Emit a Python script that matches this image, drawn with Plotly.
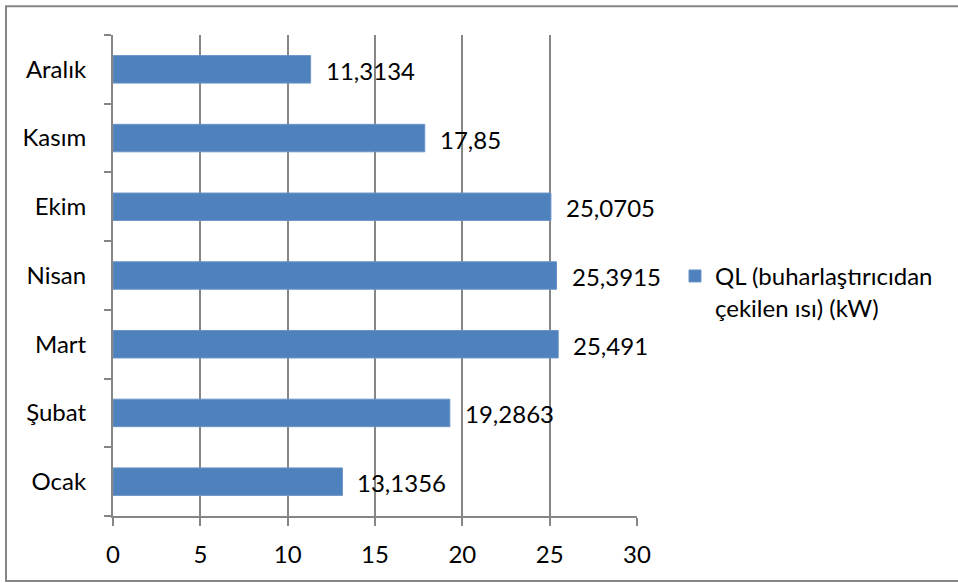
import plotly.graph_objects as go

# Monthly evaporator heat load (kW)
months = ["Ocak", "Şubat", "Mart", "Nisan", "Ekim", "Kasım", "Aralık"]
ql_values = [13.1356, 19.2863, 25.491, 25.3915, 25.0705, 17.85, 11.3134]
x_ticks = [0, 5, 10, 15, 20, 25, 30]
series_name = "QL (buharlaştırıcıdan<br>çekilen ısı) (kW)"

labels = [str(v).replace(".", ",") for v in ql_values]

FONT = "Lato, Carlito, Calibri, sans-serif"
GRAY = "#868686"
SIZE = 24

fig = go.Figure()
fig.add_trace(go.Bar(
    x=ql_values,
    y=months,
    orientation="h",
    name=series_name,
    marker=dict(color="#4f81bd", line=dict(color="#6b95c8", width=1)),
    showlegend=True,
))

# value labels to the right of each bar
for m, v, lab in zip(months, ql_values, labels):
    fig.add_annotation(
        x=v, y=m, text=lab, showarrow=False,
        xanchor="left", yanchor="middle", xshift=13, yshift=-1,
        font=dict(family=FONT, size=SIZE, color="black"),
    )

fig.update_layout(
    width=958,
    height=583,
    margin=dict(l=113, r=321, t=35, b=67),
    paper_bgcolor="white",
    plot_bgcolor="white",
    bargap=0.6,
    font=dict(family=FONT, size=SIZE, color="black"),
    legend=dict(
        x=1.0725, y=0.545, xanchor="left", yanchor="top",
        valign="top",
        font=dict(family=FONT, size=SIZE, color="black"),
        itemwidth=30,
        bgcolor="rgba(0,0,0,0)",
    ),
    xaxis=dict(
        range=[0, 30],
        tickvals=x_ticks,
        ticktext=[str(t) for t in x_ticks],
        showgrid=True,
        gridcolor=GRAY,
        gridwidth=2,
        zeroline=False,
        showline=True,
        linecolor=GRAY,
        linewidth=2,
        ticks="outside",
        ticklen=8,
        tickwidth=2,
        tickcolor=GRAY,
        ticklabelstandoff=8,
        tickfont=dict(family=FONT, size=SIZE, color="black"),
    ),
    yaxis=dict(
        type="category",
        categoryorder="array",
        categoryarray=months,
        showgrid=False,
        zeroline=False,
        showline=True,
        linecolor=GRAY,
        linewidth=2,
        ticks="outside",
        tickson="boundaries",
        ticklen=7,
        tickwidth=2,
        tickcolor=GRAY,
        ticklabelstandoff=20,
        tickfont=dict(family=FONT, size=SIZE, color="black"),
    ),
    shapes=[dict(
        type="rect", xref="paper", yref="paper",
        x0=-0.2042, x1=1.62, y0=-0.135, y1=1.060,
        line=dict(color=GRAY, width=2),
        fillcolor="rgba(0,0,0,0)",
        layer="below",
    )],
)

fig.write_html("out.html")
